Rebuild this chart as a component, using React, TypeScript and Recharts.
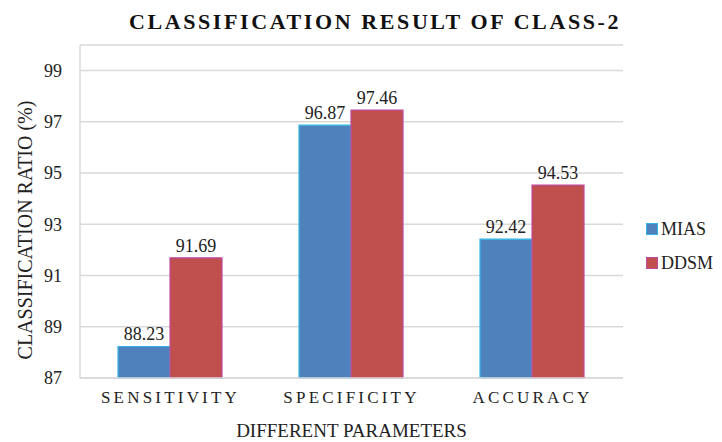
import React from "react";
import {
  BarChart,
  Bar,
  XAxis,
  YAxis,
  CartesianGrid,
  LabelList
} from "recharts";

const categories = ["SENSITIVITY", "SPECIFICITY", "ACCURACY"];
const miasValues = [88.23, 96.87, 92.42];
const ddsmValues = [91.69, 97.46, 94.53];
const yTicks = [87, 89, 91, 93, 95, 97, 99];

const data = categories.map((name, i) => ({
  name,
  MIAS: miasValues[i],
  DDSM: ddsmValues[i]
}));

const FONT = "'Liberation Serif', 'Times New Roman', serif";

const series = [
  { name: "MIAS", fill: "#4f81bd", stroke: "#2fb6e6" },
  { name: "DDSM", fill: "#c0504d", stroke: "#c04a9e" }
];

export default function App() {
  return (
    <div style={{ position: "absolute", left: 0, top: 0, width: 722, height: 442, background: "#fff", fontFamily: FONT }}>
      <div style={{
        position: "absolute", top: 9, left: 0, width: 750, textAlign: "center",
        fontSize: 22, fontWeight: 700, letterSpacing: 2.6, color: "#111"
      }}>
        CLASSIFICATION RESULT OF CLASS-2
      </div>
      <div style={{
        position: "absolute", left: 25, top: 230, transform: "translate(-50%, -50%) rotate(-90deg)",
        whiteSpace: "nowrap", fontSize: 20, color: "#222"
      }}>
        CLASSIFICATION RATIO (%)
      </div>
      <div style={{
        position: "absolute", top: 420, left: 80, width: 543, textAlign: "center", fontSize: 19, color: "#222"
      }}>
        DIFFERENT PARAMETERS
      </div>
      <div style={{ position: "absolute", left: 646, top: 218, fontSize: 18, color: "#222" }}>
        {series.map((s) => (
          <div key={s.name} style={{ display: "flex", alignItems: "center", height: 22, marginBottom: 12 }}>
            <span style={{ width: 10, height: 10, background: s.fill, border: `1px solid ${s.stroke}`, marginRight: 3 }} />
            {s.name}
          </div>
        ))}
      </div>
      <BarChart
        width={722}
        height={442}
        data={data}
        margin={{ top: 45, right: 99, left: 30, bottom: 0 }}
        barCategoryGap="21%"
        barGap={0}
      >
        <CartesianGrid horizontal vertical={false} stroke="#d9d9d9" strokeWidth={1.5} />
        <XAxis
          dataKey="name"
          tickLine={false}
          axisLine={{ stroke: "#d9d9d9", strokeWidth: 1.5 }}
          tick={{ fill: "#222", fontSize: 17, fontFamily: FONT, letterSpacing: 3.2 }}
          tickMargin={7}
          height={64}
        />
        <YAxis
          domain={[87, 100]}
          ticks={yTicks}
          width={50}
          tickLine={false}
          axisLine={{ stroke: "#d9d9d9", strokeWidth: 1.5 }}
          tick={{ fill: "#222", fontSize: 18, fontFamily: FONT }}
          tickMargin={12}
        />
        <Bar dataKey="MIAS" fill="#4f81bd" stroke="#2fb6e6" strokeWidth={1.2} isAnimationActive={false}>
          <LabelList dataKey="MIAS" position="top" offset={6} style={{ fill: "#222", fontSize: 18, fontFamily: FONT }} />
        </Bar>
        <Bar dataKey="DDSM" fill="#c0504d" stroke="#c04a9e" strokeWidth={1.2} isAnimationActive={false}>
          <LabelList dataKey="DDSM" position="top" offset={6} style={{ fill: "#222", fontSize: 18, fontFamily: FONT }} />
        </Bar>
      </BarChart>
    </div>
  );
}
